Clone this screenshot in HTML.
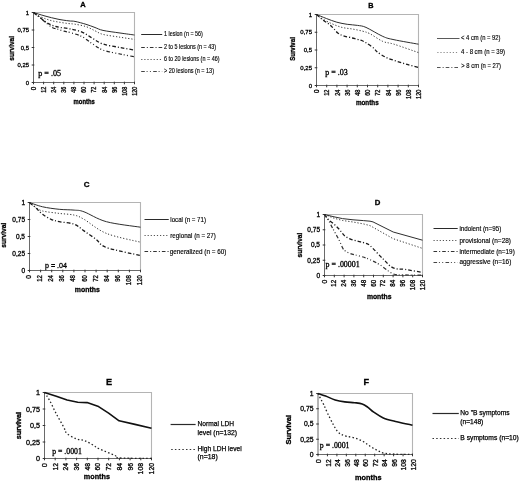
<!DOCTYPE html>
<html><head><meta charset="utf-8"><style>
html,body{margin:0;padding:0;background:#fff;}
body{width:520px;height:481px;overflow:hidden;}
svg{display:block;filter:blur(0.35px);}
</style></head><body>
<svg width="520" height="481" viewBox="0 0 520 481">
<rect width="520" height="481" fill="#fff"/>
<path d="M33.50 12.50 H134.50 V82.50" fill="none" stroke="#b4b4b4" stroke-width="1.1"/>
<path d="M33.50 12.50 V82.50 H134.50" fill="none" stroke="#6a6a6a" stroke-width="1"/>
<path d="M31.70 12.50 H34.30" stroke="#333" stroke-width="1"/>
<text x="29.00" y="14.62" font-size="5.9" font-family='"Liberation Sans", sans-serif' fill="#000" text-anchor="end" stroke="#000" stroke-width="0.3">1</text>
<path d="M31.70 30.00 H34.30" stroke="#333" stroke-width="1"/>
<text x="29.00" y="32.12" font-size="5.9" font-family='"Liberation Sans", sans-serif' fill="#000" text-anchor="end" stroke="#000" stroke-width="0.3">0,75</text>
<path d="M31.70 47.50 H34.30" stroke="#333" stroke-width="1"/>
<text x="29.00" y="49.62" font-size="5.9" font-family='"Liberation Sans", sans-serif' fill="#000" text-anchor="end" stroke="#000" stroke-width="0.3">0,5</text>
<path d="M31.70 65.00 H34.30" stroke="#333" stroke-width="1"/>
<text x="29.00" y="67.12" font-size="5.9" font-family='"Liberation Sans", sans-serif' fill="#000" text-anchor="end" stroke="#000" stroke-width="0.3">0,25</text>
<path d="M31.70 82.50 H34.30" stroke="#333" stroke-width="1"/>
<text x="29.00" y="84.62" font-size="5.9" font-family='"Liberation Sans", sans-serif' fill="#000" text-anchor="end" stroke="#000" stroke-width="0.3">0</text>
<path d="M33.50 81.70 V84.30" stroke="#333" stroke-width="1"/>
<text x="35.87" y="86.70" font-size="6.3" font-family='"Liberation Sans", sans-serif' fill="#000" text-anchor="end" transform="rotate(-90 35.87 86.70)" stroke="#000" stroke-width="0.3">0</text>
<path d="M43.60 81.70 V84.30" stroke="#333" stroke-width="1"/>
<text x="45.97" y="86.70" font-size="6.3" font-family='"Liberation Sans", sans-serif' fill="#000" text-anchor="end" textLength="6.10" lengthAdjust="spacingAndGlyphs" transform="rotate(-90 45.97 86.70)" stroke="#000" stroke-width="0.3">12</text>
<path d="M53.70 81.70 V84.30" stroke="#333" stroke-width="1"/>
<text x="56.07" y="86.70" font-size="6.3" font-family='"Liberation Sans", sans-serif' fill="#000" text-anchor="end" textLength="6.10" lengthAdjust="spacingAndGlyphs" transform="rotate(-90 56.07 86.70)" stroke="#000" stroke-width="0.3">24</text>
<path d="M63.80 81.70 V84.30" stroke="#333" stroke-width="1"/>
<text x="66.17" y="86.70" font-size="6.3" font-family='"Liberation Sans", sans-serif' fill="#000" text-anchor="end" textLength="6.10" lengthAdjust="spacingAndGlyphs" transform="rotate(-90 66.17 86.70)" stroke="#000" stroke-width="0.3">36</text>
<path d="M73.90 81.70 V84.30" stroke="#333" stroke-width="1"/>
<text x="76.27" y="86.70" font-size="6.3" font-family='"Liberation Sans", sans-serif' fill="#000" text-anchor="end" textLength="6.10" lengthAdjust="spacingAndGlyphs" transform="rotate(-90 76.27 86.70)" stroke="#000" stroke-width="0.3">48</text>
<path d="M84.00 81.70 V84.30" stroke="#333" stroke-width="1"/>
<text x="86.37" y="86.70" font-size="6.3" font-family='"Liberation Sans", sans-serif' fill="#000" text-anchor="end" textLength="6.10" lengthAdjust="spacingAndGlyphs" transform="rotate(-90 86.37 86.70)" stroke="#000" stroke-width="0.3">60</text>
<path d="M94.10 81.70 V84.30" stroke="#333" stroke-width="1"/>
<text x="96.47" y="86.70" font-size="6.3" font-family='"Liberation Sans", sans-serif' fill="#000" text-anchor="end" textLength="6.10" lengthAdjust="spacingAndGlyphs" transform="rotate(-90 96.47 86.70)" stroke="#000" stroke-width="0.3">72</text>
<path d="M104.20 81.70 V84.30" stroke="#333" stroke-width="1"/>
<text x="106.57" y="86.70" font-size="6.3" font-family='"Liberation Sans", sans-serif' fill="#000" text-anchor="end" textLength="6.10" lengthAdjust="spacingAndGlyphs" transform="rotate(-90 106.57 86.70)" stroke="#000" stroke-width="0.3">84</text>
<path d="M114.30 81.70 V84.30" stroke="#333" stroke-width="1"/>
<text x="116.67" y="86.70" font-size="6.3" font-family='"Liberation Sans", sans-serif' fill="#000" text-anchor="end" textLength="6.10" lengthAdjust="spacingAndGlyphs" transform="rotate(-90 116.67 86.70)" stroke="#000" stroke-width="0.3">96</text>
<path d="M124.40 81.70 V84.30" stroke="#333" stroke-width="1"/>
<text x="126.77" y="86.70" font-size="6.3" font-family='"Liberation Sans", sans-serif' fill="#000" text-anchor="end" textLength="9.15" lengthAdjust="spacingAndGlyphs" transform="rotate(-90 126.77 86.70)" stroke="#000" stroke-width="0.3">108</text>
<path d="M134.50 81.70 V84.30" stroke="#333" stroke-width="1"/>
<text x="136.87" y="86.70" font-size="6.3" font-family='"Liberation Sans", sans-serif' fill="#000" text-anchor="end" textLength="9.15" lengthAdjust="spacingAndGlyphs" transform="rotate(-90 136.87 86.70)" stroke="#000" stroke-width="0.3">120</text>
<text x="82.90" y="6.90" font-size="7.5" font-family='"Liberation Sans", sans-serif' fill="#000" text-anchor="middle" font-weight="bold" stroke="#000" stroke-width="0.3">A</text>
<text x="14.10" y="48.30" font-size="6.3" font-family='"Liberation Sans", sans-serif' fill="#000" text-anchor="middle" font-weight="bold" textLength="24.70" lengthAdjust="spacingAndGlyphs" transform="rotate(-90 14.10 48.30)" stroke="#000" stroke-width="0.3">survival</text>
<text x="84.20" y="103.90" font-size="6.8" font-family='"Liberation Sans", sans-serif' fill="#000" text-anchor="middle" font-weight="bold" textLength="21.20" lengthAdjust="spacingAndGlyphs" stroke="#000" stroke-width="0.3">months</text>
<text x="38.30" y="75.70" font-size="8" font-family='"Liberation Serif", serif' fill="#000" textLength="22.80" lengthAdjust="spacingAndGlyphs" stroke="#000" stroke-width="0.3">p = .05</text>
<path d="M33.50 12.50 C35.42 13.08 40.92 14.88 45.00 16.00 C49.08 17.12 54.00 18.38 58.00 19.20 C62.00 20.02 66.17 20.53 69.00 20.90 C71.83 21.27 72.17 20.83 75.00 21.40 C77.83 21.97 82.67 23.28 86.00 24.30 C89.33 25.32 92.17 26.48 95.00 27.50 C97.83 28.52 98.83 29.48 103.00 30.40 C107.17 31.32 114.75 32.23 120.00 33.00 C125.25 33.77 132.08 34.67 134.50 35.00" fill="none" stroke="#2e2e2e" stroke-width="1.0" stroke-linejoin="round"/>
<path d="M33.50 12.50 C34.08 12.95 35.17 14.22 37.00 15.20 C38.83 16.18 42.00 17.47 44.50 18.40 C47.00 19.33 49.42 20.15 52.00 20.80 C54.58 21.45 57.33 21.85 60.00 22.30 C62.67 22.75 65.50 23.18 68.00 23.50 C70.50 23.82 72.00 23.68 75.00 24.20 C78.00 24.72 82.67 25.50 86.00 26.60 C89.33 27.70 92.17 29.50 95.00 30.80 C97.83 32.10 98.83 33.33 103.00 34.40 C107.17 35.47 114.75 36.37 120.00 37.20 C125.25 38.03 132.08 39.03 134.50 39.40" fill="none" stroke="#333" stroke-width="1.0" stroke-dasharray="1.2 1.9" stroke-linejoin="round"/>
<path d="M33.50 12.50 C34.25 13.08 36.42 14.75 38.00 16.00 C39.58 17.25 41.27 18.73 43.00 20.00 C44.73 21.27 46.57 22.60 48.40 23.60 C50.23 24.60 52.07 25.37 54.00 26.00 C55.93 26.63 57.33 26.92 60.00 27.40 C62.67 27.88 66.33 28.12 70.00 28.90 C73.67 29.68 78.33 30.58 82.00 32.10 C85.67 33.62 88.50 36.02 92.00 38.00 C95.50 39.98 98.33 42.42 103.00 44.00 C107.67 45.58 114.75 46.48 120.00 47.50 C125.25 48.52 132.08 49.67 134.50 50.10" fill="none" stroke="#1a1a1a" stroke-width="1.3" stroke-dasharray="3.6 2 1.1 2" stroke-linejoin="round"/>
<path d="M33.50 12.50 C34.58 13.33 38.17 16.00 40.00 17.50 C41.83 19.00 42.47 19.83 44.50 21.50 C46.53 23.17 49.95 26.20 52.20 27.50 C54.45 28.80 56.03 28.68 58.00 29.30 C59.97 29.92 61.75 30.60 64.00 31.20 C66.25 31.80 68.50 32.00 71.50 32.90 C74.50 33.80 78.58 34.83 82.00 36.60 C85.42 38.37 88.50 41.25 92.00 43.50 C95.50 45.75 98.33 48.35 103.00 50.10 C107.67 51.85 114.75 52.88 120.00 54.00 C125.25 55.12 132.08 56.33 134.50 56.80" fill="none" stroke="#222" stroke-width="1.2" stroke-dasharray="3.6 1.8 1 2.3 1 2.3" stroke-linejoin="round"/>
<path d="M141.20 34.50 L162.20 34.50" fill="none" stroke="#2a2a2a" stroke-width="1.0" stroke-linejoin="round"/>
<text x="164.00" y="36.40" font-size="7.0" font-family='"Liberation Sans", sans-serif' fill="#000" textLength="38.90" lengthAdjust="spacingAndGlyphs" stroke="#000" stroke-width="0.15">1 lesion (n = 56)</text>
<path d="M141.20 47.50 L162.20 47.50" fill="none" stroke="#333" stroke-width="1.0" stroke-dasharray="3.6 2 1.1 2" stroke-linejoin="round"/>
<text x="164.00" y="48.50" font-size="7.0" font-family='"Liberation Sans", sans-serif' fill="#000" textLength="52.00" lengthAdjust="spacingAndGlyphs" stroke="#000" stroke-width="0.15">2 to 5 lesions (n = 43)</text>
<path d="M141.20 59.50 L162.20 59.50" fill="none" stroke="#555" stroke-width="1.0" stroke-dasharray="1.2 1.9" stroke-linejoin="round"/>
<text x="164.00" y="61.30" font-size="7.0" font-family='"Liberation Sans", sans-serif' fill="#000" textLength="55.50" lengthAdjust="spacingAndGlyphs" stroke="#000" stroke-width="0.15">6 to 20 lesions (n = 46)</text>
<path d="M141.20 71.50 L162.20 71.50" fill="none" stroke="#444" stroke-width="1.0" stroke-dasharray="3.6 1.8 1 2.3 1 2.3" stroke-linejoin="round"/>
<text x="164.00" y="73.40" font-size="7.0" font-family='"Liberation Sans", sans-serif' fill="#000" textLength="50.00" lengthAdjust="spacingAndGlyphs" stroke="#000" stroke-width="0.15">&gt; 20 lesions (n = 13)</text>
<path d="M316.50 14.50 H418.50 V85.50" fill="none" stroke="#b4b4b4" stroke-width="1.1"/>
<path d="M316.50 14.50 V85.50 H418.50" fill="none" stroke="#6a6a6a" stroke-width="1"/>
<path d="M314.70 14.50 H317.30" stroke="#333" stroke-width="1"/>
<text x="312.00" y="16.66" font-size="6.0" font-family='"Liberation Sans", sans-serif' fill="#000" text-anchor="end" stroke="#000" stroke-width="0.3">1</text>
<path d="M314.70 32.25 H317.30" stroke="#333" stroke-width="1"/>
<text x="312.00" y="34.41" font-size="6.0" font-family='"Liberation Sans", sans-serif' fill="#000" text-anchor="end" stroke="#000" stroke-width="0.3">0,75</text>
<path d="M314.70 50.00 H317.30" stroke="#333" stroke-width="1"/>
<text x="312.00" y="52.16" font-size="6.0" font-family='"Liberation Sans", sans-serif' fill="#000" text-anchor="end" stroke="#000" stroke-width="0.3">0,5</text>
<path d="M314.70 67.75 H317.30" stroke="#333" stroke-width="1"/>
<text x="312.00" y="69.91" font-size="6.0" font-family='"Liberation Sans", sans-serif' fill="#000" text-anchor="end" stroke="#000" stroke-width="0.3">0,25</text>
<path d="M314.70 85.50 H317.30" stroke="#333" stroke-width="1"/>
<text x="312.00" y="87.66" font-size="6.0" font-family='"Liberation Sans", sans-serif' fill="#000" text-anchor="end" stroke="#000" stroke-width="0.3">0</text>
<path d="M316.50 84.70 V87.30" stroke="#333" stroke-width="1"/>
<text x="319.10" y="89.50" font-size="6.4" font-family='"Liberation Sans", sans-serif' fill="#000" text-anchor="end" transform="rotate(-90 319.10 89.50)" stroke="#000" stroke-width="0.3">0</text>
<path d="M326.70 84.70 V87.30" stroke="#333" stroke-width="1"/>
<text x="329.30" y="89.50" font-size="6.4" font-family='"Liberation Sans", sans-serif' fill="#000" text-anchor="end" textLength="6.30" lengthAdjust="spacingAndGlyphs" transform="rotate(-90 329.30 89.50)" stroke="#000" stroke-width="0.3">12</text>
<path d="M336.90 84.70 V87.30" stroke="#333" stroke-width="1"/>
<text x="339.50" y="89.50" font-size="6.4" font-family='"Liberation Sans", sans-serif' fill="#000" text-anchor="end" textLength="6.30" lengthAdjust="spacingAndGlyphs" transform="rotate(-90 339.50 89.50)" stroke="#000" stroke-width="0.3">24</text>
<path d="M347.10 84.70 V87.30" stroke="#333" stroke-width="1"/>
<text x="349.70" y="89.50" font-size="6.4" font-family='"Liberation Sans", sans-serif' fill="#000" text-anchor="end" textLength="6.30" lengthAdjust="spacingAndGlyphs" transform="rotate(-90 349.70 89.50)" stroke="#000" stroke-width="0.3">36</text>
<path d="M357.30 84.70 V87.30" stroke="#333" stroke-width="1"/>
<text x="359.90" y="89.50" font-size="6.4" font-family='"Liberation Sans", sans-serif' fill="#000" text-anchor="end" textLength="6.30" lengthAdjust="spacingAndGlyphs" transform="rotate(-90 359.90 89.50)" stroke="#000" stroke-width="0.3">48</text>
<path d="M367.50 84.70 V87.30" stroke="#333" stroke-width="1"/>
<text x="370.10" y="89.50" font-size="6.4" font-family='"Liberation Sans", sans-serif' fill="#000" text-anchor="end" textLength="6.30" lengthAdjust="spacingAndGlyphs" transform="rotate(-90 370.10 89.50)" stroke="#000" stroke-width="0.3">60</text>
<path d="M377.70 84.70 V87.30" stroke="#333" stroke-width="1"/>
<text x="380.30" y="89.50" font-size="6.4" font-family='"Liberation Sans", sans-serif' fill="#000" text-anchor="end" textLength="6.30" lengthAdjust="spacingAndGlyphs" transform="rotate(-90 380.30 89.50)" stroke="#000" stroke-width="0.3">72</text>
<path d="M387.90 84.70 V87.30" stroke="#333" stroke-width="1"/>
<text x="390.50" y="89.50" font-size="6.4" font-family='"Liberation Sans", sans-serif' fill="#000" text-anchor="end" textLength="6.30" lengthAdjust="spacingAndGlyphs" transform="rotate(-90 390.50 89.50)" stroke="#000" stroke-width="0.3">84</text>
<path d="M398.10 84.70 V87.30" stroke="#333" stroke-width="1"/>
<text x="400.70" y="89.50" font-size="6.4" font-family='"Liberation Sans", sans-serif' fill="#000" text-anchor="end" textLength="6.30" lengthAdjust="spacingAndGlyphs" transform="rotate(-90 400.70 89.50)" stroke="#000" stroke-width="0.3">96</text>
<path d="M408.30 84.70 V87.30" stroke="#333" stroke-width="1"/>
<text x="410.90" y="89.50" font-size="6.4" font-family='"Liberation Sans", sans-serif' fill="#000" text-anchor="end" textLength="9.45" lengthAdjust="spacingAndGlyphs" transform="rotate(-90 410.90 89.50)" stroke="#000" stroke-width="0.3">108</text>
<path d="M418.50 84.70 V87.30" stroke="#333" stroke-width="1"/>
<text x="421.10" y="89.50" font-size="6.4" font-family='"Liberation Sans", sans-serif' fill="#000" text-anchor="end" textLength="9.45" lengthAdjust="spacingAndGlyphs" transform="rotate(-90 421.10 89.50)" stroke="#000" stroke-width="0.3">120</text>
<text x="370.90" y="8.10" font-size="7.3" font-family='"Liberation Sans", sans-serif' fill="#000" text-anchor="middle" font-weight="bold" stroke="#000" stroke-width="0.3">B</text>
<text x="294.70" y="49.00" font-size="6.3" font-family='"Liberation Sans", sans-serif' fill="#000" text-anchor="middle" font-weight="bold" textLength="23.70" lengthAdjust="spacingAndGlyphs" transform="rotate(-90 294.70 49.00)" stroke="#000" stroke-width="0.3">Survival</text>
<text x="367.30" y="104.80" font-size="7.0" font-family='"Liberation Sans", sans-serif' fill="#000" text-anchor="middle" font-weight="bold" textLength="22.80" lengthAdjust="spacingAndGlyphs" stroke="#000" stroke-width="0.3">months</text>
<text x="325.20" y="75.10" font-size="8" font-family='"Liberation Serif", serif' fill="#000" textLength="22.50" lengthAdjust="spacingAndGlyphs" stroke="#000" stroke-width="0.3">p = .03</text>
<path d="M316.50 14.50 C318.15 15.17 323.02 17.22 326.40 18.50 C329.78 19.78 333.33 21.23 336.80 22.20 C340.27 23.17 343.75 23.77 347.20 24.30 C350.65 24.83 354.37 24.88 357.50 25.40 C360.63 25.92 361.78 25.57 366.00 27.40 C370.22 29.23 378.13 34.35 382.80 36.40 C387.47 38.45 388.05 38.40 394.00 39.70 C399.95 41.00 414.42 43.45 418.50 44.20" fill="none" stroke="#2e2e2e" stroke-width="1.0" stroke-linejoin="round"/>
<path d="M316.50 14.50 C317.28 15.12 318.68 16.68 321.20 18.20 C323.72 19.72 328.13 22.07 331.60 23.60 C335.07 25.13 338.55 26.50 342.00 27.40 C345.45 28.30 348.85 28.37 352.30 29.00 C355.75 29.63 359.75 30.40 362.70 31.20 C365.65 32.00 366.65 32.10 370.00 33.80 C373.35 35.50 378.80 39.67 382.80 41.40 C386.80 43.13 388.05 42.33 394.00 44.20 C399.95 46.07 414.42 51.20 418.50 52.60" fill="none" stroke="#333" stroke-width="1.0" stroke-dasharray="1.2 1.9" stroke-linejoin="round"/>
<path d="M316.50 14.50 C317.63 15.47 321.13 18.63 323.30 20.30 C325.47 21.97 327.77 23.12 329.50 24.50 C331.23 25.88 332.32 27.18 333.70 28.60 C335.08 30.02 336.25 31.82 337.80 33.00 C339.35 34.18 340.58 34.87 343.00 35.70 C345.42 36.53 349.35 37.25 352.30 38.00 C355.25 38.75 358.42 39.40 360.70 40.20 C362.98 41.00 363.78 41.43 366.00 42.80 C368.22 44.17 372.17 46.90 374.00 48.40 C375.83 49.90 375.00 50.30 377.00 51.80 C379.00 53.30 382.67 55.82 386.00 57.40 C389.33 58.98 393.33 60.08 397.00 61.30 C400.67 62.52 404.42 63.67 408.00 64.70 C411.58 65.73 416.75 67.03 418.50 67.50" fill="none" stroke="#1a1a1a" stroke-width="1.3" stroke-dasharray="3.6 2 1.1 2" stroke-linejoin="round"/>
<path d="M437.00 38.50 L459.50 38.50" fill="none" stroke="#5a5a5a" stroke-width="1.0" stroke-linejoin="round"/>
<text x="461.00" y="40.00" font-size="7.2" font-family='"Liberation Sans", sans-serif' fill="#000" textLength="39.50" lengthAdjust="spacingAndGlyphs" stroke="#000" stroke-width="0.15">&lt; 4 cm (n = 92)</text>
<path d="M437.30 52.50 L458.30 52.50" fill="none" stroke="#888" stroke-width="1.0" stroke-dasharray="1.2 1.9" stroke-linejoin="round"/>
<text x="461.00" y="54.00" font-size="7.2" font-family='"Liberation Sans", sans-serif' fill="#000" textLength="44.00" lengthAdjust="spacingAndGlyphs" stroke="#000" stroke-width="0.15">4 - 8 cm (n = 39)</text>
<path d="M437.00 67.50 L459.50 67.50" fill="none" stroke="#555" stroke-width="1.0" stroke-dasharray="3.6 2 1.1 2" stroke-linejoin="round"/>
<text x="461.30" y="68.00" font-size="7.2" font-family='"Liberation Sans", sans-serif' fill="#000" textLength="39.70" lengthAdjust="spacingAndGlyphs" stroke="#000" stroke-width="0.15">&gt; 8 cm (n = 27)</text>
<path d="M29.50 202.50 H140.50 V270.50" fill="none" stroke="#b4b4b4" stroke-width="1.1"/>
<path d="M29.50 202.50 V270.50 H140.50" fill="none" stroke="#6a6a6a" stroke-width="1"/>
<path d="M27.70 202.50 H30.30" stroke="#333" stroke-width="1"/>
<text x="25.00" y="204.84" font-size="6.5" font-family='"Liberation Sans", sans-serif' fill="#000" text-anchor="end" stroke="#000" stroke-width="0.3">1</text>
<path d="M27.70 219.50 H30.30" stroke="#333" stroke-width="1"/>
<text x="25.00" y="221.84" font-size="6.5" font-family='"Liberation Sans", sans-serif' fill="#000" text-anchor="end" stroke="#000" stroke-width="0.3">0,75</text>
<path d="M27.70 236.50 H30.30" stroke="#333" stroke-width="1"/>
<text x="25.00" y="238.84" font-size="6.5" font-family='"Liberation Sans", sans-serif' fill="#000" text-anchor="end" stroke="#000" stroke-width="0.3">0,5</text>
<path d="M27.70 253.50 H30.30" stroke="#333" stroke-width="1"/>
<text x="25.00" y="255.84" font-size="6.5" font-family='"Liberation Sans", sans-serif' fill="#000" text-anchor="end" stroke="#000" stroke-width="0.3">0,25</text>
<path d="M27.70 270.50 H30.30" stroke="#333" stroke-width="1"/>
<text x="25.00" y="272.84" font-size="6.5" font-family='"Liberation Sans", sans-serif' fill="#000" text-anchor="end" stroke="#000" stroke-width="0.3">0</text>
<path d="M29.50 269.70 V272.30" stroke="#333" stroke-width="1"/>
<text x="31.01" y="275.10" font-size="6.7" font-family='"Liberation Sans", sans-serif' fill="#000" text-anchor="end" transform="rotate(-90 31.01 275.10)" stroke="#000" stroke-width="0.3">0</text>
<path d="M40.60 269.70 V272.30" stroke="#333" stroke-width="1"/>
<text x="42.11" y="275.10" font-size="6.7" font-family='"Liberation Sans", sans-serif' fill="#000" text-anchor="end" textLength="6.70" lengthAdjust="spacingAndGlyphs" transform="rotate(-90 42.11 275.10)" stroke="#000" stroke-width="0.3">12</text>
<path d="M51.70 269.70 V272.30" stroke="#333" stroke-width="1"/>
<text x="53.21" y="275.10" font-size="6.7" font-family='"Liberation Sans", sans-serif' fill="#000" text-anchor="end" textLength="6.70" lengthAdjust="spacingAndGlyphs" transform="rotate(-90 53.21 275.10)" stroke="#000" stroke-width="0.3">24</text>
<path d="M62.80 269.70 V272.30" stroke="#333" stroke-width="1"/>
<text x="64.31" y="275.10" font-size="6.7" font-family='"Liberation Sans", sans-serif' fill="#000" text-anchor="end" textLength="6.70" lengthAdjust="spacingAndGlyphs" transform="rotate(-90 64.31 275.10)" stroke="#000" stroke-width="0.3">36</text>
<path d="M73.90 269.70 V272.30" stroke="#333" stroke-width="1"/>
<text x="75.41" y="275.10" font-size="6.7" font-family='"Liberation Sans", sans-serif' fill="#000" text-anchor="end" textLength="6.70" lengthAdjust="spacingAndGlyphs" transform="rotate(-90 75.41 275.10)" stroke="#000" stroke-width="0.3">48</text>
<path d="M85.00 269.70 V272.30" stroke="#333" stroke-width="1"/>
<text x="86.51" y="275.10" font-size="6.7" font-family='"Liberation Sans", sans-serif' fill="#000" text-anchor="end" textLength="6.70" lengthAdjust="spacingAndGlyphs" transform="rotate(-90 86.51 275.10)" stroke="#000" stroke-width="0.3">60</text>
<path d="M96.10 269.70 V272.30" stroke="#333" stroke-width="1"/>
<text x="97.61" y="275.10" font-size="6.7" font-family='"Liberation Sans", sans-serif' fill="#000" text-anchor="end" textLength="6.70" lengthAdjust="spacingAndGlyphs" transform="rotate(-90 97.61 275.10)" stroke="#000" stroke-width="0.3">72</text>
<path d="M107.20 269.70 V272.30" stroke="#333" stroke-width="1"/>
<text x="108.71" y="275.10" font-size="6.7" font-family='"Liberation Sans", sans-serif' fill="#000" text-anchor="end" textLength="6.70" lengthAdjust="spacingAndGlyphs" transform="rotate(-90 108.71 275.10)" stroke="#000" stroke-width="0.3">84</text>
<path d="M118.30 269.70 V272.30" stroke="#333" stroke-width="1"/>
<text x="119.81" y="275.10" font-size="6.7" font-family='"Liberation Sans", sans-serif' fill="#000" text-anchor="end" textLength="6.70" lengthAdjust="spacingAndGlyphs" transform="rotate(-90 119.81 275.10)" stroke="#000" stroke-width="0.3">96</text>
<path d="M129.40 269.70 V272.30" stroke="#333" stroke-width="1"/>
<text x="130.91" y="275.10" font-size="6.7" font-family='"Liberation Sans", sans-serif' fill="#000" text-anchor="end" textLength="10.05" lengthAdjust="spacingAndGlyphs" transform="rotate(-90 130.91 275.10)" stroke="#000" stroke-width="0.3">108</text>
<path d="M140.50 269.70 V272.30" stroke="#333" stroke-width="1"/>
<text x="142.01" y="275.10" font-size="6.7" font-family='"Liberation Sans", sans-serif' fill="#000" text-anchor="end" textLength="10.05" lengthAdjust="spacingAndGlyphs" transform="rotate(-90 142.01 275.10)" stroke="#000" stroke-width="0.3">120</text>
<text x="86.60" y="186.80" font-size="8.0" font-family='"Liberation Sans", sans-serif' fill="#000" text-anchor="middle" font-weight="bold" stroke="#000" stroke-width="0.3">C</text>
<text x="6.10" y="235.20" font-size="6.3" font-family='"Liberation Sans", sans-serif' fill="#000" text-anchor="middle" font-weight="bold" textLength="25.00" lengthAdjust="spacingAndGlyphs" transform="rotate(-90 6.10 235.20)" stroke="#000" stroke-width="0.3">survival</text>
<text x="87.30" y="291.60" font-size="7.4" font-family='"Liberation Sans", sans-serif' fill="#000" text-anchor="middle" font-weight="bold" textLength="25.00" lengthAdjust="spacingAndGlyphs" stroke="#000" stroke-width="0.3">months</text>
<text x="45.00" y="267.70" font-size="7.2" font-family='"Liberation Sans", sans-serif' fill="#000" textLength="22.00" lengthAdjust="spacingAndGlyphs" stroke="#000" stroke-width="0.3">p = .04</text>
<path d="M29.50 202.50 C31.68 203.22 37.65 205.67 42.60 206.80 C47.55 207.93 53.93 208.75 59.20 209.30 C64.47 209.85 70.07 209.68 74.20 210.10 C78.33 210.52 78.63 209.87 84.00 211.80 C89.37 213.73 96.98 219.13 106.40 221.70 C115.82 224.27 134.82 226.28 140.50 227.20" fill="none" stroke="#2e2e2e" stroke-width="1.0" stroke-linejoin="round"/>
<path d="M29.50 202.50 C30.58 203.35 33.82 206.18 36.00 207.60 C38.18 209.02 38.73 210.03 42.60 211.00 C46.47 211.97 53.93 212.72 59.20 213.40 C64.47 214.08 70.07 214.12 74.20 215.10 C78.33 216.08 78.63 216.25 84.00 219.30 C89.37 222.35 96.98 229.58 106.40 233.40 C115.82 237.22 134.82 240.73 140.50 242.20" fill="none" stroke="#333" stroke-width="1.0" stroke-dasharray="1.2 1.9" stroke-linejoin="round"/>
<path d="M29.50 202.50 C30.58 203.42 33.82 206.03 36.00 208.00 C38.18 209.97 40.10 212.42 42.60 214.30 C45.10 216.18 48.23 218.07 51.00 219.30 C53.77 220.53 55.33 220.88 59.20 221.70 C63.07 222.52 70.07 222.67 74.20 224.20 C78.33 225.73 80.37 228.40 84.00 230.90 C87.63 233.40 92.27 236.43 96.00 239.20 C99.73 241.97 98.98 244.78 106.40 247.50 C113.82 250.22 134.82 254.17 140.50 255.50" fill="none" stroke="#1a1a1a" stroke-width="1.3" stroke-dasharray="3.6 2 1.1 2" stroke-linejoin="round"/>
<path d="M144.50 219.50 L168.75 219.50" fill="none" stroke="#2a2a2a" stroke-width="1.0" stroke-linejoin="round"/>
<text x="170.30" y="221.80" font-size="7.0" font-family='"Liberation Sans", sans-serif' fill="#000" textLength="35.70" lengthAdjust="spacingAndGlyphs" stroke="#000" stroke-width="0.15">local (n = 71)</text>
<path d="M144.50 235.50 L168.75 235.50" fill="none" stroke="#555" stroke-width="1.0" stroke-dasharray="1.2 1.9" stroke-linejoin="round"/>
<text x="170.30" y="237.80" font-size="7.0" font-family='"Liberation Sans", sans-serif' fill="#000" textLength="45.50" lengthAdjust="spacingAndGlyphs" stroke="#000" stroke-width="0.15">regional (n = 27)</text>
<path d="M144.50 251.50 L168.75 251.50" fill="none" stroke="#333" stroke-width="1.0" stroke-dasharray="3.6 2 1.1 2" stroke-linejoin="round"/>
<text x="169.80" y="253.80" font-size="7.0" font-family='"Liberation Sans", sans-serif' fill="#000" textLength="56.50" lengthAdjust="spacingAndGlyphs" stroke="#000" stroke-width="0.15">generalized (n = 60)</text>
<path d="M324.50 214.50 H422.50 V275.50" fill="none" stroke="#b4b4b4" stroke-width="1.1"/>
<path d="M324.50 214.50 V275.50 H422.50" fill="none" stroke="#6a6a6a" stroke-width="1"/>
<path d="M322.70 214.50 H325.30" stroke="#333" stroke-width="1"/>
<text x="320.00" y="216.84" font-size="6.5" font-family='"Liberation Sans", sans-serif' fill="#000" text-anchor="end" stroke="#000" stroke-width="0.3">1</text>
<path d="M322.70 229.75 H325.30" stroke="#333" stroke-width="1"/>
<text x="320.00" y="232.09" font-size="6.5" font-family='"Liberation Sans", sans-serif' fill="#000" text-anchor="end" stroke="#000" stroke-width="0.3">0,75</text>
<path d="M322.70 245.00 H325.30" stroke="#333" stroke-width="1"/>
<text x="320.00" y="247.34" font-size="6.5" font-family='"Liberation Sans", sans-serif' fill="#000" text-anchor="end" stroke="#000" stroke-width="0.3">0,5</text>
<path d="M322.70 260.25 H325.30" stroke="#333" stroke-width="1"/>
<text x="320.00" y="262.59" font-size="6.5" font-family='"Liberation Sans", sans-serif' fill="#000" text-anchor="end" stroke="#000" stroke-width="0.3">0,25</text>
<path d="M322.70 275.50 H325.30" stroke="#333" stroke-width="1"/>
<text x="320.00" y="277.84" font-size="6.5" font-family='"Liberation Sans", sans-serif' fill="#000" text-anchor="end" stroke="#000" stroke-width="0.3">0</text>
<path d="M324.50 274.70 V277.30" stroke="#333" stroke-width="1"/>
<text x="326.65" y="279.80" font-size="6.8" font-family='"Liberation Sans", sans-serif' fill="#000" text-anchor="end" transform="rotate(-90 326.65 279.80)" stroke="#000" stroke-width="0.3">0</text>
<path d="M334.30 274.70 V277.30" stroke="#333" stroke-width="1"/>
<text x="336.45" y="279.80" font-size="6.8" font-family='"Liberation Sans", sans-serif' fill="#000" text-anchor="end" textLength="6.90" lengthAdjust="spacingAndGlyphs" transform="rotate(-90 336.45 279.80)" stroke="#000" stroke-width="0.3">12</text>
<path d="M344.10 274.70 V277.30" stroke="#333" stroke-width="1"/>
<text x="346.25" y="279.80" font-size="6.8" font-family='"Liberation Sans", sans-serif' fill="#000" text-anchor="end" textLength="6.90" lengthAdjust="spacingAndGlyphs" transform="rotate(-90 346.25 279.80)" stroke="#000" stroke-width="0.3">24</text>
<path d="M353.90 274.70 V277.30" stroke="#333" stroke-width="1"/>
<text x="356.05" y="279.80" font-size="6.8" font-family='"Liberation Sans", sans-serif' fill="#000" text-anchor="end" textLength="6.90" lengthAdjust="spacingAndGlyphs" transform="rotate(-90 356.05 279.80)" stroke="#000" stroke-width="0.3">36</text>
<path d="M363.70 274.70 V277.30" stroke="#333" stroke-width="1"/>
<text x="365.85" y="279.80" font-size="6.8" font-family='"Liberation Sans", sans-serif' fill="#000" text-anchor="end" textLength="6.90" lengthAdjust="spacingAndGlyphs" transform="rotate(-90 365.85 279.80)" stroke="#000" stroke-width="0.3">48</text>
<path d="M373.50 274.70 V277.30" stroke="#333" stroke-width="1"/>
<text x="375.65" y="279.80" font-size="6.8" font-family='"Liberation Sans", sans-serif' fill="#000" text-anchor="end" textLength="6.90" lengthAdjust="spacingAndGlyphs" transform="rotate(-90 375.65 279.80)" stroke="#000" stroke-width="0.3">60</text>
<path d="M383.30 274.70 V277.30" stroke="#333" stroke-width="1"/>
<text x="385.45" y="279.80" font-size="6.8" font-family='"Liberation Sans", sans-serif' fill="#000" text-anchor="end" textLength="6.90" lengthAdjust="spacingAndGlyphs" transform="rotate(-90 385.45 279.80)" stroke="#000" stroke-width="0.3">72</text>
<path d="M393.10 274.70 V277.30" stroke="#333" stroke-width="1"/>
<text x="395.25" y="279.80" font-size="6.8" font-family='"Liberation Sans", sans-serif' fill="#000" text-anchor="end" textLength="6.90" lengthAdjust="spacingAndGlyphs" transform="rotate(-90 395.25 279.80)" stroke="#000" stroke-width="0.3">84</text>
<path d="M402.90 274.70 V277.30" stroke="#333" stroke-width="1"/>
<text x="405.05" y="279.80" font-size="6.8" font-family='"Liberation Sans", sans-serif' fill="#000" text-anchor="end" textLength="6.90" lengthAdjust="spacingAndGlyphs" transform="rotate(-90 405.05 279.80)" stroke="#000" stroke-width="0.3">96</text>
<path d="M412.70 274.70 V277.30" stroke="#333" stroke-width="1"/>
<text x="414.85" y="279.80" font-size="6.8" font-family='"Liberation Sans", sans-serif' fill="#000" text-anchor="end" textLength="10.35" lengthAdjust="spacingAndGlyphs" transform="rotate(-90 414.85 279.80)" stroke="#000" stroke-width="0.3">108</text>
<path d="M422.50 274.70 V277.30" stroke="#333" stroke-width="1"/>
<text x="424.65" y="279.80" font-size="6.8" font-family='"Liberation Sans", sans-serif' fill="#000" text-anchor="end" textLength="10.35" lengthAdjust="spacingAndGlyphs" transform="rotate(-90 424.65 279.80)" stroke="#000" stroke-width="0.3">120</text>
<text x="377.60" y="205.00" font-size="7.8" font-family='"Liberation Sans", sans-serif' fill="#000" text-anchor="middle" font-weight="bold" stroke="#000" stroke-width="0.3">D</text>
<text x="302.10" y="245.10" font-size="6.3" font-family='"Liberation Sans", sans-serif' fill="#000" text-anchor="middle" font-weight="bold" textLength="24.80" lengthAdjust="spacingAndGlyphs" transform="rotate(-90 302.10 245.10)" stroke="#000" stroke-width="0.3">survival</text>
<text x="379.20" y="298.50" font-size="7.4" font-family='"Liberation Sans", sans-serif' fill="#000" text-anchor="middle" font-weight="bold" textLength="24.60" lengthAdjust="spacingAndGlyphs" stroke="#000" stroke-width="0.3">months</text>
<text x="325.60" y="266.90" font-size="7.6" font-family='"Liberation Serif", serif' fill="#000" textLength="34.00" lengthAdjust="spacingAndGlyphs" stroke="#000" stroke-width="0.3">p = .00001</text>
<path d="M324.50 214.50 L334.00 216.80 L342.50 218.60 L353.00 219.80 L363.40 220.60 L370.00 221.20 L373.00 221.90 L393.20 232.00 L422.50 240.20" fill="none" stroke="#2e2e2e" stroke-width="1.0" stroke-linejoin="round"/>
<path d="M324.50 214.50 L334.00 218.20 L342.50 220.50 L353.00 222.00 L363.40 223.90 L370.00 225.60 L393.20 238.70 L422.50 248.40" fill="none" stroke="#333" stroke-width="1.0" stroke-dasharray="1.2 1.9" stroke-linejoin="round"/>
<path d="M324.50 214.50 C325.12 215.33 326.55 217.83 328.20 219.50 C329.85 221.17 332.50 222.80 334.40 224.50 C336.30 226.20 337.87 227.80 339.60 229.70 C341.33 231.60 342.90 234.30 344.80 235.90 C346.70 237.50 348.75 238.38 351.00 239.30 C353.25 240.22 356.13 240.82 358.30 241.40 C360.47 241.98 362.05 242.10 364.00 242.80 C365.95 243.50 366.83 242.92 370.00 245.60 C373.17 248.28 379.13 255.18 383.00 258.90 C386.87 262.62 389.53 266.15 393.20 267.90 C396.87 269.65 400.12 268.65 405.00 269.40 C409.88 270.15 419.58 271.90 422.50 272.40" fill="none" stroke="#1a1a1a" stroke-width="1.3" stroke-dasharray="3.6 2 1.1 2" stroke-linejoin="round"/>
<path d="M324.50 214.50 C325.12 215.38 326.90 217.62 328.20 219.80 C329.50 221.98 331.10 225.35 332.30 227.60 C333.50 229.85 334.18 231.05 335.40 233.30 C336.62 235.55 338.22 238.38 339.60 241.10 C340.98 243.82 341.97 247.55 343.70 249.60 C345.43 251.65 347.75 252.43 350.00 253.40 C352.25 254.37 354.87 254.75 357.20 255.40 C359.53 256.05 361.87 256.60 364.00 257.30 C366.13 258.00 367.33 258.33 370.00 259.60 C372.67 260.87 376.13 262.52 380.00 264.90 C383.87 267.28 389.03 272.23 393.20 273.90 C397.37 275.57 400.12 274.68 405.00 274.90 C409.88 275.12 419.58 275.15 422.50 275.20" fill="none" stroke="#333" stroke-width="1.2" stroke-dasharray="3.6 1.8 1 2.3 1 2.3" stroke-linejoin="round"/>
<path d="M433.50 228.50 L457.70 228.50" fill="none" stroke="#2a2a2a" stroke-width="1.0" stroke-linejoin="round"/>
<text x="459.40" y="231.00" font-size="7.0" font-family='"Liberation Sans", sans-serif' fill="#000" textLength="41.90" lengthAdjust="spacingAndGlyphs" stroke="#000" stroke-width="0.15">indolent (n=95)</text>
<path d="M433.50 240.50 L457.70 240.50" fill="none" stroke="#555" stroke-width="1.0" stroke-dasharray="1.2 1.9" stroke-linejoin="round"/>
<text x="459.40" y="242.80" font-size="7.0" font-family='"Liberation Sans", sans-serif' fill="#000" textLength="51.60" lengthAdjust="spacingAndGlyphs" stroke="#000" stroke-width="0.15">provisional (n=28)</text>
<path d="M433.50 251.50 L457.70 251.50" fill="none" stroke="#333" stroke-width="1.0" stroke-dasharray="3.6 2 1.1 2" stroke-linejoin="round"/>
<text x="459.40" y="253.50" font-size="7.0" font-family='"Liberation Sans", sans-serif' fill="#000" textLength="55.40" lengthAdjust="spacingAndGlyphs" stroke="#000" stroke-width="0.15">intermediate (n=19)</text>
<path d="M433.50 262.50 L457.70 262.50" fill="none" stroke="#444" stroke-width="1.0" stroke-dasharray="3.6 1.8 1 2.3 1 2.3" stroke-linejoin="round"/>
<text x="459.40" y="264.20" font-size="7.0" font-family='"Liberation Sans", sans-serif' fill="#000" textLength="51.90" lengthAdjust="spacingAndGlyphs" stroke="#000" stroke-width="0.15">aggressive (n=16)</text>
<path d="M44.50 392.50 H151.50 V458.50" fill="none" stroke="#b4b4b4" stroke-width="1.1"/>
<path d="M44.50 392.50 V458.50 H151.50" fill="none" stroke="#6a6a6a" stroke-width="1"/>
<path d="M42.70 392.50 H45.30" stroke="#333" stroke-width="1"/>
<text x="40.00" y="395.09" font-size="7.2" font-family='"Liberation Sans", sans-serif' fill="#000" text-anchor="end" stroke="#000" stroke-width="0.3">1</text>
<path d="M42.70 409.00 H45.30" stroke="#333" stroke-width="1"/>
<text x="40.00" y="411.59" font-size="7.2" font-family='"Liberation Sans", sans-serif' fill="#000" text-anchor="end" stroke="#000" stroke-width="0.3">0,75</text>
<path d="M42.70 425.50 H45.30" stroke="#333" stroke-width="1"/>
<text x="40.00" y="428.09" font-size="7.2" font-family='"Liberation Sans", sans-serif' fill="#000" text-anchor="end" stroke="#000" stroke-width="0.3">0,5</text>
<path d="M42.70 442.00 H45.30" stroke="#333" stroke-width="1"/>
<text x="40.00" y="444.59" font-size="7.2" font-family='"Liberation Sans", sans-serif' fill="#000" text-anchor="end" stroke="#000" stroke-width="0.3">0,25</text>
<path d="M42.70 458.50 H45.30" stroke="#333" stroke-width="1"/>
<text x="40.00" y="461.09" font-size="7.2" font-family='"Liberation Sans", sans-serif' fill="#000" text-anchor="end" stroke="#000" stroke-width="0.3">0</text>
<path d="M44.50 457.70 V460.30" stroke="#333" stroke-width="1"/>
<text x="46.96" y="463.00" font-size="7.4" font-family='"Liberation Sans", sans-serif' fill="#000" text-anchor="end" transform="rotate(-90 46.96 463.00)" stroke="#000" stroke-width="0.3">0</text>
<path d="M55.20 457.70 V460.30" stroke="#333" stroke-width="1"/>
<text x="57.66" y="463.00" font-size="7.4" font-family='"Liberation Sans", sans-serif' fill="#000" text-anchor="end" textLength="7.60" lengthAdjust="spacingAndGlyphs" transform="rotate(-90 57.66 463.00)" stroke="#000" stroke-width="0.3">12</text>
<path d="M65.90 457.70 V460.30" stroke="#333" stroke-width="1"/>
<text x="68.36" y="463.00" font-size="7.4" font-family='"Liberation Sans", sans-serif' fill="#000" text-anchor="end" textLength="7.60" lengthAdjust="spacingAndGlyphs" transform="rotate(-90 68.36 463.00)" stroke="#000" stroke-width="0.3">24</text>
<path d="M76.60 457.70 V460.30" stroke="#333" stroke-width="1"/>
<text x="79.06" y="463.00" font-size="7.4" font-family='"Liberation Sans", sans-serif' fill="#000" text-anchor="end" textLength="7.60" lengthAdjust="spacingAndGlyphs" transform="rotate(-90 79.06 463.00)" stroke="#000" stroke-width="0.3">36</text>
<path d="M87.30 457.70 V460.30" stroke="#333" stroke-width="1"/>
<text x="89.76" y="463.00" font-size="7.4" font-family='"Liberation Sans", sans-serif' fill="#000" text-anchor="end" textLength="7.60" lengthAdjust="spacingAndGlyphs" transform="rotate(-90 89.76 463.00)" stroke="#000" stroke-width="0.3">48</text>
<path d="M98.00 457.70 V460.30" stroke="#333" stroke-width="1"/>
<text x="100.46" y="463.00" font-size="7.4" font-family='"Liberation Sans", sans-serif' fill="#000" text-anchor="end" textLength="7.60" lengthAdjust="spacingAndGlyphs" transform="rotate(-90 100.46 463.00)" stroke="#000" stroke-width="0.3">60</text>
<path d="M108.70 457.70 V460.30" stroke="#333" stroke-width="1"/>
<text x="111.16" y="463.00" font-size="7.4" font-family='"Liberation Sans", sans-serif' fill="#000" text-anchor="end" textLength="7.60" lengthAdjust="spacingAndGlyphs" transform="rotate(-90 111.16 463.00)" stroke="#000" stroke-width="0.3">72</text>
<path d="M119.40 457.70 V460.30" stroke="#333" stroke-width="1"/>
<text x="121.86" y="463.00" font-size="7.4" font-family='"Liberation Sans", sans-serif' fill="#000" text-anchor="end" textLength="7.60" lengthAdjust="spacingAndGlyphs" transform="rotate(-90 121.86 463.00)" stroke="#000" stroke-width="0.3">84</text>
<path d="M130.10 457.70 V460.30" stroke="#333" stroke-width="1"/>
<text x="132.56" y="463.00" font-size="7.4" font-family='"Liberation Sans", sans-serif' fill="#000" text-anchor="end" textLength="7.60" lengthAdjust="spacingAndGlyphs" transform="rotate(-90 132.56 463.00)" stroke="#000" stroke-width="0.3">96</text>
<path d="M140.80 457.70 V460.30" stroke="#333" stroke-width="1"/>
<text x="143.26" y="463.00" font-size="7.4" font-family='"Liberation Sans", sans-serif' fill="#000" text-anchor="end" textLength="11.40" lengthAdjust="spacingAndGlyphs" transform="rotate(-90 143.26 463.00)" stroke="#000" stroke-width="0.3">108</text>
<path d="M151.50 457.70 V460.30" stroke="#333" stroke-width="1"/>
<text x="153.96" y="463.00" font-size="7.4" font-family='"Liberation Sans", sans-serif' fill="#000" text-anchor="end" textLength="11.40" lengthAdjust="spacingAndGlyphs" transform="rotate(-90 153.96 463.00)" stroke="#000" stroke-width="0.3">120</text>
<text x="109.00" y="384.70" font-size="9.2" font-family='"Liberation Sans", sans-serif' fill="#000" text-anchor="middle" font-weight="bold" stroke="#000" stroke-width="0.3">E</text>
<text x="21.00" y="425.60" font-size="6.8" font-family='"Liberation Sans", sans-serif' fill="#000" text-anchor="middle" font-weight="bold" textLength="27.50" lengthAdjust="spacingAndGlyphs" transform="rotate(-90 21.00 425.60)" stroke="#000" stroke-width="0.3">survival</text>
<text x="96.90" y="478.80" font-size="7.6" font-family='"Liberation Sans", sans-serif' fill="#000" text-anchor="middle" font-weight="bold" textLength="26.10" lengthAdjust="spacingAndGlyphs" stroke="#000" stroke-width="0.3">months</text>
<text x="52.20" y="454.00" font-size="8" font-family='"Liberation Serif", serif' fill="#000" textLength="29.60" lengthAdjust="spacingAndGlyphs" stroke="#000" stroke-width="0.3">p = .0001</text>
<path d="M44.50 392.50 L56.30 396.20 L67.10 400.00 L77.80 402.30 L87.10 402.60 L97.80 406.20 L108.60 413.10 L119.10 420.80 L135.00 424.40 L151.50 428.30" fill="none" stroke="#111" stroke-width="1.6" stroke-linejoin="round"/>
<path d="M44.50 392.50 C45.33 393.78 47.62 396.80 49.50 400.20 C51.38 403.60 53.43 408.42 55.80 412.90 C58.17 417.38 61.85 423.68 63.70 427.10 C65.55 430.52 64.80 431.43 66.90 433.40 C69.00 435.37 73.42 437.72 76.30 438.90 C79.18 440.08 81.57 439.57 84.20 440.50 C86.83 441.43 89.47 443.05 92.10 444.50 C94.73 445.95 96.18 447.37 100.00 449.20 C103.82 451.03 111.98 454.05 115.00 455.50 C118.02 456.95 112.02 457.42 118.10 457.90 C124.18 458.38 145.93 458.32 151.50 458.40" fill="none" stroke="#222" stroke-width="1.3" stroke-dasharray="1.5 2.2" stroke-linejoin="round"/>
<path d="M170.60 424.50 L195.60 424.50" fill="none" stroke="#2a2a2a" stroke-width="1.2" stroke-linejoin="round"/>
<text x="197.50" y="426.40" font-size="7.2" font-family='"Liberation Sans", sans-serif' fill="#000" textLength="36.50" lengthAdjust="spacingAndGlyphs" stroke="#000" stroke-width="0.25">Normal LDH</text>
<text x="197.50" y="435.20" font-size="7.2" font-family='"Liberation Sans", sans-serif' fill="#000" textLength="39.50" lengthAdjust="spacingAndGlyphs" stroke="#000" stroke-width="0.25">level (n=132)</text>
<path d="M171.20 449.50 L195.60 449.50" fill="none" stroke="#333" stroke-width="1.2" stroke-dasharray="1.5 2.2" stroke-linejoin="round"/>
<text x="197.50" y="451.00" font-size="7.2" font-family='"Liberation Sans", sans-serif' fill="#000" textLength="44.20" lengthAdjust="spacingAndGlyphs" stroke="#000" stroke-width="0.25">High LDH level</text>
<text x="197.50" y="458.60" font-size="7.2" font-family='"Liberation Sans", sans-serif' fill="#000" textLength="20.20" lengthAdjust="spacingAndGlyphs" stroke="#000" stroke-width="0.25">(n=18)</text>
<path d="M318.00 393.50 H412.50 V454.50" fill="none" stroke="#b4b4b4" stroke-width="1.1"/>
<path d="M318.00 393.50 V454.50 H412.50" fill="none" stroke="#6a6a6a" stroke-width="1"/>
<path d="M316.20 393.50 H318.80" stroke="#333" stroke-width="1"/>
<text x="313.50" y="395.95" font-size="6.8" font-family='"Liberation Sans", sans-serif' fill="#000" text-anchor="end" stroke="#000" stroke-width="0.3">1</text>
<path d="M316.20 408.75 H318.80" stroke="#333" stroke-width="1"/>
<text x="313.50" y="411.20" font-size="6.8" font-family='"Liberation Sans", sans-serif' fill="#000" text-anchor="end" stroke="#000" stroke-width="0.3">0,75</text>
<path d="M316.20 424.00 H318.80" stroke="#333" stroke-width="1"/>
<text x="313.50" y="426.45" font-size="6.8" font-family='"Liberation Sans", sans-serif' fill="#000" text-anchor="end" stroke="#000" stroke-width="0.3">0,5</text>
<path d="M316.20 439.25 H318.80" stroke="#333" stroke-width="1"/>
<text x="313.50" y="441.70" font-size="6.8" font-family='"Liberation Sans", sans-serif' fill="#000" text-anchor="end" stroke="#000" stroke-width="0.3">0,25</text>
<path d="M316.20 454.50 H318.80" stroke="#333" stroke-width="1"/>
<text x="313.50" y="456.95" font-size="6.8" font-family='"Liberation Sans", sans-serif' fill="#000" text-anchor="end" stroke="#000" stroke-width="0.3">0</text>
<path d="M318.00 453.70 V456.30" stroke="#333" stroke-width="1"/>
<text x="321.16" y="459.10" font-size="7.4" font-family='"Liberation Sans", sans-serif' fill="#000" text-anchor="end" transform="rotate(-90 321.16 459.10)" stroke="#000" stroke-width="0.3">0</text>
<path d="M327.45 453.70 V456.30" stroke="#333" stroke-width="1"/>
<text x="330.61" y="459.10" font-size="7.4" font-family='"Liberation Sans", sans-serif' fill="#000" text-anchor="end" textLength="7.60" lengthAdjust="spacingAndGlyphs" transform="rotate(-90 330.61 459.10)" stroke="#000" stroke-width="0.3">12</text>
<path d="M336.90 453.70 V456.30" stroke="#333" stroke-width="1"/>
<text x="340.06" y="459.10" font-size="7.4" font-family='"Liberation Sans", sans-serif' fill="#000" text-anchor="end" textLength="7.60" lengthAdjust="spacingAndGlyphs" transform="rotate(-90 340.06 459.10)" stroke="#000" stroke-width="0.3">24</text>
<path d="M346.35 453.70 V456.30" stroke="#333" stroke-width="1"/>
<text x="349.51" y="459.10" font-size="7.4" font-family='"Liberation Sans", sans-serif' fill="#000" text-anchor="end" textLength="7.60" lengthAdjust="spacingAndGlyphs" transform="rotate(-90 349.51 459.10)" stroke="#000" stroke-width="0.3">36</text>
<path d="M355.80 453.70 V456.30" stroke="#333" stroke-width="1"/>
<text x="358.96" y="459.10" font-size="7.4" font-family='"Liberation Sans", sans-serif' fill="#000" text-anchor="end" textLength="7.60" lengthAdjust="spacingAndGlyphs" transform="rotate(-90 358.96 459.10)" stroke="#000" stroke-width="0.3">48</text>
<path d="M365.25 453.70 V456.30" stroke="#333" stroke-width="1"/>
<text x="368.41" y="459.10" font-size="7.4" font-family='"Liberation Sans", sans-serif' fill="#000" text-anchor="end" textLength="7.60" lengthAdjust="spacingAndGlyphs" transform="rotate(-90 368.41 459.10)" stroke="#000" stroke-width="0.3">60</text>
<path d="M374.70 453.70 V456.30" stroke="#333" stroke-width="1"/>
<text x="377.86" y="459.10" font-size="7.4" font-family='"Liberation Sans", sans-serif' fill="#000" text-anchor="end" textLength="7.60" lengthAdjust="spacingAndGlyphs" transform="rotate(-90 377.86 459.10)" stroke="#000" stroke-width="0.3">72</text>
<path d="M384.15 453.70 V456.30" stroke="#333" stroke-width="1"/>
<text x="387.31" y="459.10" font-size="7.4" font-family='"Liberation Sans", sans-serif' fill="#000" text-anchor="end" textLength="7.60" lengthAdjust="spacingAndGlyphs" transform="rotate(-90 387.31 459.10)" stroke="#000" stroke-width="0.3">84</text>
<path d="M393.60 453.70 V456.30" stroke="#333" stroke-width="1"/>
<text x="396.76" y="459.10" font-size="7.4" font-family='"Liberation Sans", sans-serif' fill="#000" text-anchor="end" textLength="7.60" lengthAdjust="spacingAndGlyphs" transform="rotate(-90 396.76 459.10)" stroke="#000" stroke-width="0.3">96</text>
<path d="M403.05 453.70 V456.30" stroke="#333" stroke-width="1"/>
<text x="406.21" y="459.10" font-size="7.4" font-family='"Liberation Sans", sans-serif' fill="#000" text-anchor="end" textLength="11.40" lengthAdjust="spacingAndGlyphs" transform="rotate(-90 406.21 459.10)" stroke="#000" stroke-width="0.3">108</text>
<path d="M412.50 453.70 V456.30" stroke="#333" stroke-width="1"/>
<text x="415.66" y="459.10" font-size="7.4" font-family='"Liberation Sans", sans-serif' fill="#000" text-anchor="end" textLength="11.40" lengthAdjust="spacingAndGlyphs" transform="rotate(-90 415.66 459.10)" stroke="#000" stroke-width="0.3">120</text>
<text x="366.40" y="384.90" font-size="9.2" font-family='"Liberation Sans", sans-serif' fill="#000" text-anchor="middle" font-weight="bold" stroke="#000" stroke-width="0.3">F</text>
<text x="290.90" y="429.70" font-size="7.0" font-family='"Liberation Sans", sans-serif' fill="#000" text-anchor="middle" font-weight="bold" textLength="29.40" lengthAdjust="spacingAndGlyphs" transform="rotate(-90 290.90 429.70)" stroke="#000" stroke-width="0.3">Survival</text>
<text x="368.30" y="479.60" font-size="7.6" font-family='"Liberation Sans", sans-serif' fill="#000" text-anchor="middle" font-weight="bold" textLength="26.50" lengthAdjust="spacingAndGlyphs" stroke="#000" stroke-width="0.3">months</text>
<text x="319.80" y="447.60" font-size="8" font-family='"Liberation Serif", serif' fill="#000" textLength="29.70" lengthAdjust="spacingAndGlyphs" stroke="#000" stroke-width="0.3">p = .0001</text>
<path d="M318.00 393.50 C319.27 393.92 322.73 394.92 325.60 396.00 C328.47 397.08 332.00 399.02 335.20 400.00 C338.40 400.98 341.58 401.45 344.80 401.90 C348.02 402.35 351.60 402.37 354.50 402.70 C357.40 403.03 359.97 403.13 362.20 403.90 C364.43 404.67 365.98 405.93 367.90 407.30 C369.82 408.67 371.13 410.33 373.70 412.10 C376.27 413.87 379.45 416.30 383.30 417.90 C387.15 419.50 391.93 420.48 396.80 421.70 C401.67 422.92 409.88 424.62 412.50 425.20" fill="none" stroke="#111" stroke-width="1.6" stroke-linejoin="round"/>
<path d="M318.00 393.50 C318.42 394.33 319.55 396.67 320.50 398.50 C321.45 400.33 322.53 402.07 323.70 404.50 C324.87 406.93 325.90 409.75 327.50 413.10 C329.10 416.45 331.68 421.62 333.30 424.60 C334.92 427.58 335.88 429.37 337.20 431.00 C338.52 432.63 339.58 433.52 341.20 434.40 C342.82 435.28 344.60 435.68 346.90 436.30 C349.20 436.92 352.30 437.23 355.00 438.10 C357.70 438.97 360.60 440.15 363.10 441.50 C365.60 442.85 367.70 444.75 370.00 446.20 C372.30 447.65 374.60 449.05 376.90 450.20 C379.20 451.35 380.92 452.43 383.80 453.10 C386.68 453.77 389.42 454.00 394.20 454.20 C398.98 454.40 409.45 454.28 412.50 454.30" fill="none" stroke="#222" stroke-width="1.3" stroke-dasharray="1.5 2.2" stroke-linejoin="round"/>
<path d="M432.50 413.50 L458.80 413.50" fill="none" stroke="#2a2a2a" stroke-width="1.2" stroke-linejoin="round"/>
<text x="460.30" y="415.00" font-size="7.2" font-family='"Liberation Sans", sans-serif' fill="#000" textLength="49.20" lengthAdjust="spacingAndGlyphs" stroke="#000" stroke-width="0.25">No &quot;B symptoms</text>
<text x="460.30" y="424.40" font-size="7.2" font-family='"Liberation Sans", sans-serif' fill="#000" textLength="23.00" lengthAdjust="spacingAndGlyphs" stroke="#000" stroke-width="0.25">(n=148)</text>
<path d="M432.50 438.50 L458.80 438.50" fill="none" stroke="#333" stroke-width="1.2" stroke-dasharray="1.5 2.2" stroke-linejoin="round"/>
<text x="460.30" y="440.30" font-size="7.2" font-family='"Liberation Sans", sans-serif' fill="#000" textLength="58.50" lengthAdjust="spacingAndGlyphs" stroke="#000" stroke-width="0.25">B symptoms (n=10)</text>
</svg>
</body></html>
